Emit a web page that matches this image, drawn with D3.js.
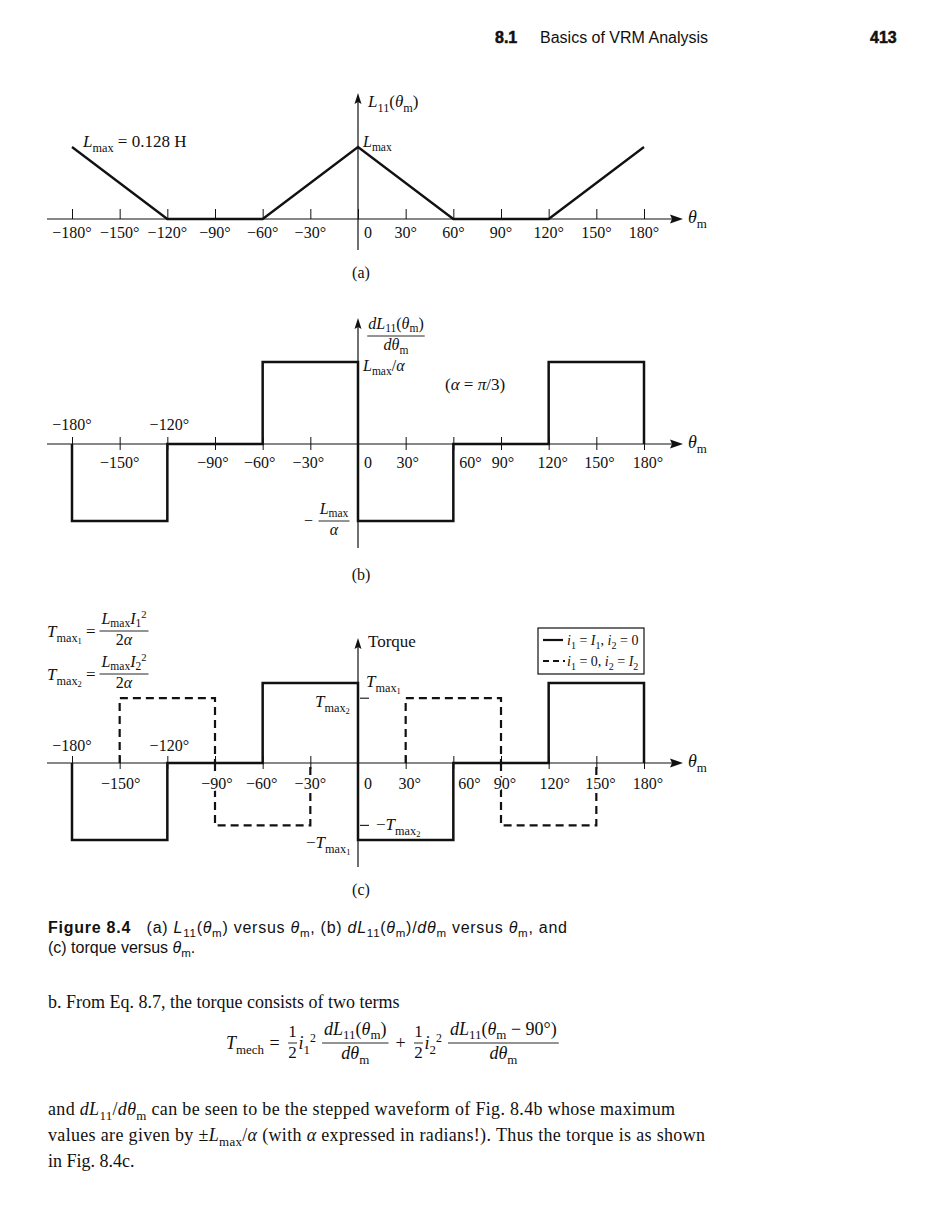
<!DOCTYPE html>
<html><head><meta charset="utf-8">
<script src="https://cdn.jsdelivr.net/npm/d3@7"></script>
<style>body{margin:0;background:#fff}svg{display:block}text{white-space:pre}</style>
</head><body>
<svg id="c" width="936" height="1230"></svg>
<script>
// ---------- data ----------
const ticksDeg = [-180,-150,-120,-90,-60,-30,0,30,60,90,120,150,180];
const tickLabels = ["−180°","−150°","−120°","−90°","−60°","−30°","0","30°","60°","90°","120°","150°","180°"];
const Lmax = 0.128; // H
const thetaA = [-180,-120,-60,0,60,120,180];
const L11 = [0.128,0,0,0.128,0,0,0.128];
const stepEdges = [-180,-120,-60,0,60,120,180];
const dL11 = [-1,0,1,-1,0,1];            // units of Lmax/alpha
const torque1 = [-1,0,1,-1,0,1];         // units of Tmax1 (i1 = I1, i2 = 0)
const dashEdges = [-180,-150,-90,-30,30,90,150,180];
const torque2 = [0,0.81,-0.81,0,0.81,-0.81,0]; // i1 = 0, i2 = I2
const Tmax2ratio = 0.81;

// ---------- setup ----------
const svg = d3.select("#c");
const INK = "#111";
const serif = "'Liberation Serif','Times New Roman',serif";
const sans = "'Liberation Sans',Arial,sans-serif";

const x = d3.scaleLinear().domain([-180,180]).range([72,644]);
const yA = d3.scaleLinear().domain([0,Lmax]).range([219,147]);
const yB = d3.scaleLinear().domain([-1,0,1]).range([521,444,362]);
const yC = d3.scaleLinear().domain([-1,0,1]).range([840,763,683]);

function rich(parent, px, py, parts, opt={}) {
  const size = opt.size || 15;
  const t = parent.append("text").attr("x",px).attr("y",py)
    .attr("font-family", opt.family || serif).attr("font-size", size)
    .attr("fill", INK).attr("text-anchor", opt.anchor || "start");
  let cur = 0;
  const subOff = opt.sub !== undefined ? opt.sub : 0.28;
  parts.forEach(p => {
    const str = typeof p === "string" ? p : p[0];
    const k = typeof p === "string" ? "" : (p[1] || "");
    const s = t.append("tspan").text(str);
    let off = 0, fs = size;
    if (k.includes("__")) { off = size*(subOff+0.15); fs = size*0.5; }
    else if (k.includes("_")) { off = size*subOff; fs = size*0.72; }
    else if (k.includes("^")) { off = -size*0.4; fs = size*0.66; }
    if (k.includes("i")) s.attr("font-style","italic");
    if (k.includes("b")) s.attr("font-weight","bold");
    if (off !== cur) s.attr("dy", off - cur);
    cur = off;
    if (fs !== size) s.attr("font-size", fs);
    if (typeof p !== "string" && p[2] !== undefined) s.attr("dx", p[2]);
  });
  if (opt.len) t.attr("textLength", opt.len).attr("lengthAdjust", "spacing");
  return t;
}
function frac(parent, cx, yl, num, den, opt={}) {
  const size = opt.size || 15;
  const a = rich(parent, cx, yl - (opt.up||4), num, {anchor:"middle", size, sub: opt.sub});
  const b = rich(parent, cx, yl + (opt.down||13), den, {anchor:"middle", size});
  const w = opt.w || Math.max(a.node().getBBox().width, b.node().getBBox().width) + 2;
  parent.append("line").attr("x1", cx - w/2).attr("x2", cx + w/2)
    .attr("y1", yl).attr("y2", yl).attr("stroke", INK).attr("stroke-width", 0.9);
  return w;
}
function textWidth(parent, parts, size) {
  const t = rich(parent, 0, -100, parts, {size});
  const w = t.node().getBBox().width; t.remove(); return w;
}

function axes(y0, yTop, yBot, crossTicks) {
  const g = svg.append("g");
  g.append("line").attr("x1",47).attr("x2",676).attr("y1",y0).attr("y2",y0)
    .attr("stroke",INK).attr("stroke-width",1.2);
  g.append("path").attr("d",`M683,${y0} L670,${y0-4.5} L672,${y0} L670,${y0+4.5} Z`).attr("fill",INK);
  const ax = crossTicks
    ? d3.axisBottom(x).tickValues(ticksDeg).tickSize(13).tickFormat("")
    : d3.axisTop(x).tickValues(ticksDeg).tickSize(10).tickFormat("");
  const ga = g.append("g").attr("transform", `translate(0,${crossTicks ? y0-7 : y0})`).call(ax);
  ga.select(".domain").remove();
  ga.selectAll("line").attr("stroke",INK).attr("stroke-width",1);
  g.append("line").attr("x1",x(0)).attr("x2",x(0)).attr("y1",yBot).attr("y2",yTop+8)
    .attr("stroke",INK).attr("stroke-width",1.2);
  g.append("path").attr("d",`M${x(0)},${yTop} L${x(0)-3.5},${yTop+11} L${x(0)},${yTop+9} L${x(0)+3.5},${yTop+11} Z`).attr("fill",INK);
  rich(g, 688, y0+4, [["θ","i"],["m","_"]], {size:18});
  return g;
}
function tickText(g, cfg) {
  const lab = g.append("g");
  ticksDeg.forEach((d,i) => {
    const c = cfg(d,i);
    lab.append("text").attr("x", x(d) + c.dx).attr("y", c.y)
      .attr("text-anchor","middle").attr("font-family",serif).attr("font-size",16)
      .attr("fill",INK).attr("stroke","#fff").attr("stroke-width",4).attr("paint-order","stroke")
      .text(tickLabels[i]);
  });
  return lab;
}
// closed step waveform: starts and ends on the axis
function stepPath(edges, vals, y) {
  const pts = [[x(edges[0]), y(0)]];
  vals.forEach((v,i) => { pts.push([x(edges[i]), y(v)]); pts.push([x(edges[i+1]), y(v)]); });
  pts.push([x(edges[edges.length-1]), y(0)]);
  return d3.line()(pts);
}

// ---------- header ----------
svg.append("text").attr("x",495).attr("y",43).attr("font-family",sans).attr("font-weight","bold").attr("font-size",16).attr("fill",INK).attr("stroke",INK).attr("stroke-width",0.5).text("8.1");
svg.append("text").attr("x",540).attr("y",43).attr("font-family",sans).attr("font-size",16).attr("fill",INK).text("Basics of VRM Analysis");
svg.append("text").attr("x",870).attr("y",43).attr("font-family",sans).attr("font-weight","bold").attr("font-size",16).attr("fill",INK).attr("stroke",INK).attr("stroke-width",0.5).text("413");

// ---------- panel (a) ----------
const gA = axes(yA(0), 93, 250, false);
gA.append("path").attr("d", d3.line().x(d=>x(d)).y((d,i)=>yA(L11[i]))(thetaA))
  .attr("fill","none").attr("stroke",INK).attr("stroke-width",2.3);
tickText(gA, d => ({dx: d === 0 ? 10 : 0, y: 238}));
rich(gA, 368, 107, [["L","i"],["11","_"],"(",["θ","i"],["m","_"],")"], {size:17});
rich(gA, 363, 147, [["L","i"],["max","_"]], {size:16});
rich(gA, 83, 147, [["L","i"],["max","_"]," = 0.128 H"], {size:17});
svg.append("text").attr("x",361).attr("y",278).attr("text-anchor","middle").attr("font-family",serif).attr("font-size",16).attr("fill",INK).text("(a)");

// ---------- panel (b) ----------
const gB = axes(yB(0), 318, 548, true);
gB.append("path").attr("d", stepPath(stepEdges, dL11, yB))
  .attr("fill","none").attr("stroke",INK).attr("stroke-width",2.5).attr("stroke-linejoin","miter");
const offB = {"-150":0,"-90":-2,"-60":-3,"-30":-2,"0":10,"30":2,"60":17,"90":2,"120":4,"150":3,"180":4,"-180":0,"-120":2};
tickText(gB, d => ({dx: offB[d], y: (d === -180 || d === -120) ? 430 : 468}));
frac(gB, 396, 336, [["d","i"],["L","i"],["11","_"],"(",["θ","i"],["m","_"],")"], [["d","i"],["θ","i"],["m","_"]], {size:16, up:7, down:14, sub:0.2});
rich(gB, 363, 371, [["L","i"],["max","_"],"/",["α","i"]], {size:16});
rich(gB, 445, 390, ["(",["α","i"]," = ",["π","i"],"/3)"], {size:17});
gB.append("text").attr("x",304).attr("y",526).attr("font-family",serif).attr("font-size",16).attr("fill",INK).text("−");
frac(gB, 334, 521, [["L","i"],["max","_"]], [["α","i"]], {size:16, w:31, up:7, down:14, sub:0.2});
svg.append("text").attr("x",361).attr("y",580).attr("text-anchor","middle").attr("font-family",serif).attr("font-size",16).attr("fill",INK).text("(b)");

// ---------- panel (c) ----------
const gC = axes(yC(0), 638, 867, true);
gC.append("path").attr("d", stepPath(stepEdges, torque1, yC))
  .attr("fill","none").attr("stroke",INK).attr("stroke-width",2.5);
for (let i = 0; i < torque2.length; i++) {
  if (torque2[i] === 0) continue;
  const a = dashEdges[i], b = dashEdges[i+1];
  gC.append("path").attr("d", d3.line()([[x(a), yC(0)],[x(a), yC(torque2[i])],[x(b), yC(torque2[i])],[x(b), yC(0)]]))
    .attr("fill","none").attr("stroke",INK).attr("stroke-width",2.2).attr("stroke-dasharray","8,5");
}
[Tmax2ratio, -Tmax2ratio].forEach(v => gC.append("line").attr("x1",x(0)+2).attr("x2",x(0)+11)
  .attr("y1",yC(v)).attr("y2",yC(v)).attr("stroke",INK).attr("stroke-width",1.1));
const offC = {"-180":0,"-150":1,"-120":2,"-90":2,"-60":-1,"-30":0,"0":10,"30":4,"60":16,"90":4,"120":6,"150":4,"180":4};
tickText(gC, d => ({dx: offC[d], y: (d === -180 || d === -120) ? 751 : 789}));
rich(gC, 368, 647, ["Torque"], {size:17});
rich(gC, 366, 687, [["T","i"],["max","_"],["1","__"]], {size:17});
rich(gC, 315, 707, [["T","i"],["max","_"],["2","__"]], {size:17});
rich(gC, 376, 830, ["−",["T","i"],["max","_"],["2","__"]], {size:17});
rich(gC, 306, 848, ["−",["T","i"],["max","_"],["1","__"]], {size:17});
rich(gC, 47, 637, [["T","i"],["max","_"],["1","__"]," ="], {size:17});
frac(gC, 124, 631, [["L","i"],["max","_"],["I","i"],["1","_"],["2","^"]], ["2",["α","i"]], {size:16, w:49, up:7, down:14, sub:0.18});
rich(gC, 47, 680, [["T","i"],["max","_"],["2","__"]," ="], {size:17});
frac(gC, 124, 674, [["L","i"],["max","_"],["I","i"],["2","_"],["2","^"]], ["2",["α","i"]], {size:16, w:49, up:7, down:14, sub:0.18});
// legend
const lg = svg.append("g");
lg.append("rect").attr("x",538).attr("y",628).attr("width",106).attr("height",46)
  .attr("fill","#fff").attr("stroke",INK).attr("stroke-width",1.2);
lg.append("line").attr("x1",543).attr("x2",563).attr("y1",640).attr("y2",640).attr("stroke",INK).attr("stroke-width",2.2);
lg.append("line").attr("x1",543).attr("x2",565).attr("y1",661).attr("y2",661).attr("stroke",INK).attr("stroke-width",2.2).attr("stroke-dasharray","6,4");
rich(lg, 567, 645, [["i","i"],["1","_"]," = ",["I","i"],["1","_"],", ",["i","i"],["2","_"]," = 0"], {size:14});
rich(lg, 567, 666, [["i","i"],["1","_"]," = 0, ",["i","i"],["2","_"]," = ",["I","i"],["2","_"]], {size:14});
svg.append("text").attr("x",361).attr("y",895).attr("text-anchor","middle").attr("font-family",serif).attr("font-size",16).attr("fill",INK).text("(c)");

// ---------- caption ----------
rich(svg, 48, 933, [["Figure 8.4","b"],"   (a) ",["L","i"],["11","_"],"(",["θ","i"],["m","_"],") versus ",["θ","i"],["m","_"],", (b) ",["dL","i"],["11","_"],"(",["θ","i"],["m","_"],")/",["dθ","i"],["m","_"]," versus ",["θ","i"],["m","_"],", and"], {size:16, family:sans, len:519});
rich(svg, 48, 953, ["(c) torque versus ",["θ","i"],["m","_"],"."], {size:16, family:sans});

// ---------- body text ----------
rich(svg, 48, 1008, ["b. From Eq. 8.7, the torque consists of two terms"], {size:18});
(function(){
  const ES = 18, yb = 1049, yl = 1043;
  let cx = 226;
  const T = rich(svg, cx, yb, [["T","i"],["mech","_"]], {size:ES});
  cx += T.node().getBBox().width + 5;
  svg.append("text").attr("x",cx).attr("y",yb).attr("font-family",serif).attr("font-size",ES).attr("fill",INK).text("=");
  cx += 18;
  const half = (cx0) => { frac(svg, cx0 + 5, yl, ["1"], ["2"], {size:17, w:9, up:6, down:15}); return 10; };
  cx += half(cx) + 1;
  const i1 = rich(svg, cx, yb, [["i","i"],["1","_"],["2","^"]], {size:ES});
  cx += i1.node().getBBox().width + 6;
  const num1 = [["d","i"],["L","i"],["11","_"],"(",["θ","i"],["m","_"],")"];
  let w1 = textWidth(svg, num1, ES) + 4;
  frac(svg, cx + w1/2, yl, num1, [["d","i"],["θ","i"],["m","_"]], {size:ES, w:w1, up:8, down:16, sub:0.2});
  cx += w1 + 7;
  svg.append("text").attr("x",cx).attr("y",yb).attr("font-family",serif).attr("font-size",ES).attr("fill",INK).text("+");
  cx += 18;
  cx += half(cx) + 1;
  const i2 = rich(svg, cx, yb, [["i","i"],["2","_"],["2","^"]], {size:ES});
  cx += i2.node().getBBox().width + 6;
  const num2 = [["d","i"],["L","i"],["11","_"],"(",["θ","i"],["m","_"]," − 90°)"];
  let w2 = textWidth(svg, num2, ES) + 4;
  frac(svg, cx + w2/2, yl, num2, [["d","i"],["θ","i"],["m","_"]], {size:ES, w:w2, up:8, down:16, sub:0.2});
})();

rich(svg, 48, 1115, ["and ",["dL","i"],["11","_"],"/",["dθ","i"],["m","_"]," can be seen to be the stepped waveform of Fig. 8.4b whose maximum"], {size:18, len:627});
rich(svg, 48, 1141, ["values are given by ±",["L","i"],["max","_"],"/",["α","i"]," (with ",["α","i"]," expressed in radians!). Thus the torque is as shown"], {size:18, len:657});
rich(svg, 48, 1167, ["in Fig. 8.4c."], {size:18});
</script>
</body></html>
